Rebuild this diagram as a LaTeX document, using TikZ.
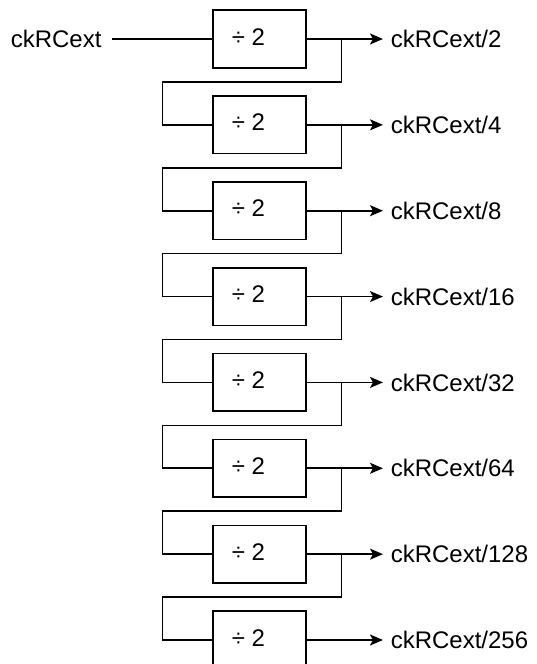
\documentclass[tikz,border=0pt]{standalone}
\usepackage{fontspec}
\setmainfont{Liberation Sans}
\usetikzlibrary{arrows.meta}
\begin{document}
\begin{tikzpicture}[x=1pt,y=-1pt, line width=1.6pt,
  lbl/.style={font=\fontsize{24}{28}\selectfont},
  divbox/.style={draw, minimum width=93pt, minimum height=57.6pt, inner sep=0pt,
    label={[lbl, xshift=-11pt, yshift=2.3pt]center:÷ 2}},
  txt/.style={lbl, inner sep=0pt},
  arr/.style={-{Stealth[length=13pt,width=11pt,inset=3pt]}}]
\clip (0,0) rectangle (536,664);
\fill[white] (0,0) rectangle (536,664);
\foreach \i/\v in {1/2,2/4,3/8,4/16,5/32,6/64,7/128,8/256} {
  \pgfmathsetmacro\yy{39+(\i-1)*85.857}
  \node[divbox] (b\i) at (259.5,\yy) {};
  \node[txt, anchor=west, inner xsep=7pt] (o\i) at (383,\yy) {ckRCext/\v};
  \draw[arr] (b\i.east) -- (o\i.west);
}
\node[txt, anchor=west] (in) at (10,39) {ckRCext};
\draw ([xshift=10pt]in.east) -- (b1.west);
\foreach \i in {1,...,7} {
  \pgfmathsetmacro\yy{39+(\i-1)*85.857}
  \pgfmathsetmacro\ym{\yy+42.93}
  \pgfmathtruncatemacro\n{\i+1}
  \coordinate (j\i) at (341.3,\yy);
  \coordinate (k\i) at (162.3,\ym);
  \draw (j\i) |- (k\i) |- (b\n.west);
}
\end{tikzpicture}
\end{document}
